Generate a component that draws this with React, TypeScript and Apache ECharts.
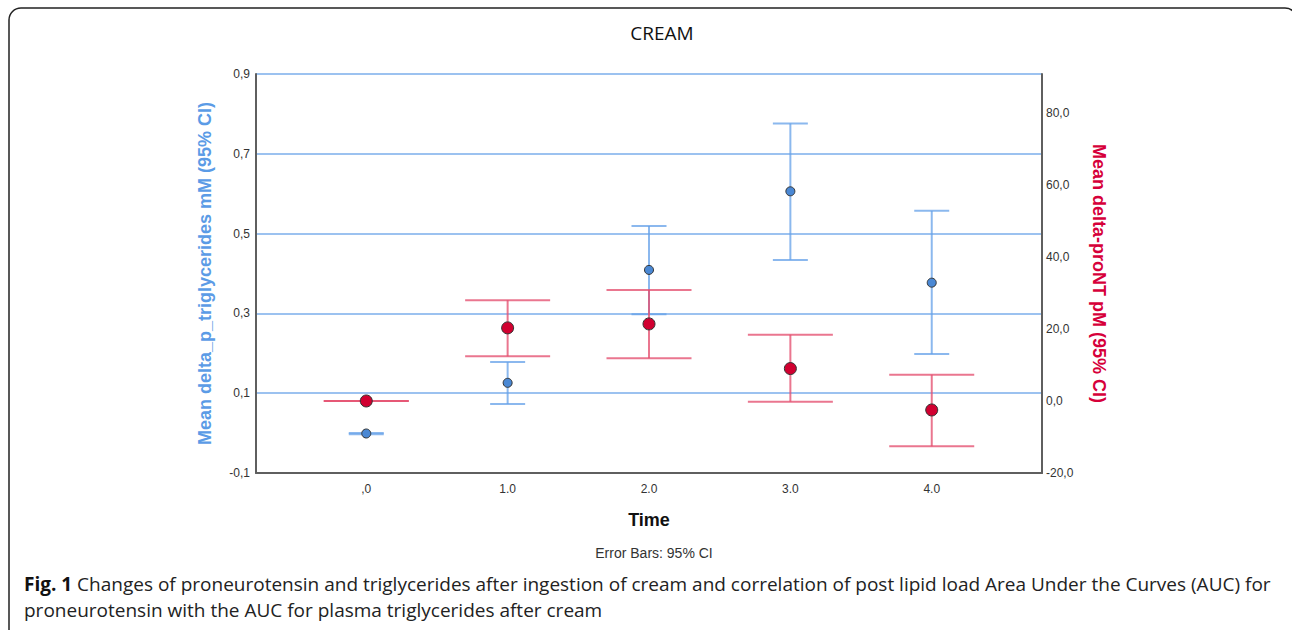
import React, { useEffect, useRef } from "react";
import * as echarts from "echarts";

const times = [0, 1, 2, 3, 4];
const xLabels = [",0", "1.0", "2.0", "3.0", "4.0"];
const trigMean = [-0.001, 0.126, 0.409, 0.606, 0.377];
const trigLow = [-0.003, 0.073, 0.298, 0.434, 0.198];
const trigHigh = [0.0, 0.178, 0.519, 0.776, 0.557];
const pntMean = [0.0, 20.3, 21.4, 9.0, -2.5];
const pntLow = [0.0, 12.4, 11.9, -0.2, -12.6];
const pntHigh = [0.0, 28.0, 30.8, 18.4, 7.3];
const leftTicks = { min: -0.1, max: 0.9, interval: 0.2 };
const rightTicks = { min: -20, max: 90.8, interval: 20 };

const fmtComma = (v: number) => v.toFixed(1).replace(".", ",");

function makeErrorRender(color: string, capW: number) {
  return (params: any, api: any) => {
    const x = api.value(0);
    const lo = api.value(1);
    const hi = api.value(2);
    const pLo = api.coord([x, lo]);
    const pHi = api.coord([x, hi]);
    const h = capW / 2;
    const style = { stroke: color, lineWidth: 2 };
    return {
      type: "group",
      children: [
        { type: "line", shape: { x1: pLo[0], y1: pLo[1], x2: pHi[0], y2: pHi[1] }, style },
        { type: "line", shape: { x1: pLo[0] - h, y1: pLo[1], x2: pLo[0] + h, y2: pLo[1] }, style },
        { type: "line", shape: { x1: pHi[0] - h, y1: pHi[1], x2: pHi[0] + h, y2: pHi[1] }, style },
      ],
    };
  };
}

export default function App() {
  const ref = useRef<HTMLDivElement>(null);
  useEffect(() => {
    document.body.style.margin = "0";
    const chart = echarts.init(ref.current!, undefined, { renderer: "svg" });
    const axisGray = "#5f5f5f";
    const option: any = {
      animation: false,
      backgroundColor: "#ffffff",
      title: {
        text: "CREAM",
        left: 657,
        top: 18,
        textAlign: "center",
        textStyle: { fontFamily: "Open Sans", fontSize: 19, fontWeight: "normal", color: "#111" },
      },
      grid: { left: 256, right: 250, top: 74, bottom: 157 },
      xAxis: {
        type: "value",
        min: -0.78,
        max: 4.78,
        name: "Time",
        nameLocation: "middle",
        nameGap: 38,
        nameTextStyle: { fontFamily: "Liberation Sans", fontSize: 18, fontWeight: "bold", color: "#111" },
        axisLine: { onZero: false, lineStyle: { color: axisGray, width: 2 } },
        axisTick: { show: false },
        splitLine: { show: false },
        axisLabel: {
          showMinLabel: false,
          showMaxLabel: false,
          margin: 10,
          fontFamily: "Liberation Sans",
          fontSize: 12,
          color: "#333",
          formatter: (v: number) => {
            const i = Math.round(v);
            return Math.abs(v - i) < 1e-6 && i >= 0 && i < xLabels.length ? xLabels[i] : "";
          },
        },
      },
      yAxis: [
        {
          type: "value",
          min: leftTicks.min,
          max: leftTicks.max,
          interval: leftTicks.interval,
          position: "left",
          name: "Mean delta_p_triglycerides mM (95% CI)",
          nameLocation: "middle",
          nameRotate: 90,
          nameGap: 42,
          nameTextStyle: { fontFamily: "Liberation Sans", fontSize: 18, fontWeight: "bold", color: "#5b9be6" },
          axisLine: { show: true, onZero: false, lineStyle: { color: axisGray, width: 2 } },
          axisTick: { show: false },
          axisLabel: { margin: 6, fontFamily: "Liberation Sans", fontSize: 12, color: "#333", formatter: fmtComma },
          splitLine: { show: true, lineStyle: { color: "#9cc2f0", width: 2 } },
        },
        {
          type: "value",
          min: rightTicks.min,
          max: rightTicks.max,
          interval: rightTicks.interval,
          position: "right",
          name: "Mean delta-proNT pM (95% CI)",
          nameLocation: "middle",
          nameRotate: -90,
          nameGap: 48,
          nameTextStyle: { fontFamily: "Liberation Sans", fontSize: 18, fontWeight: "bold", color: "#d6003a" },
          axisLine: { show: true, onZero: false, lineStyle: { color: axisGray, width: 2 } },
          axisTick: { show: false },
          axisLabel: {
            margin: 4,
            showMaxLabel: false,
            fontFamily: "Liberation Sans",
            fontSize: 12,
            color: "#333",
            formatter: fmtComma,
          },
          splitLine: { show: false },
        },
      ],
      series: [
        {
          type: "custom",
          yAxisIndex: 0,
          renderItem: makeErrorRender("rgba(100,160,232,0.75)", 35),
          encode: { x: 0, y: [1, 2] },
          data: times.map((t, i) => [t, trigLow[i], trigHigh[i]]),
          z: 3,
        },
        {
          type: "custom",
          yAxisIndex: 1,
          renderItem: makeErrorRender("rgba(228,80,112,0.78)", 85),
          encode: { x: 0, y: [1, 2] },
          data: times.map((t, i) => [t, pntLow[i], pntHigh[i]]),
          z: 4,
        },
        {
          type: "scatter",
          yAxisIndex: 0,
          symbolSize: 9,
          itemStyle: { color: "#4a88d4", borderColor: "#333", borderWidth: 1, opacity: 1 },
          data: times.map((t, i) => [t, trigMean[i]]),
          z: 5,
        },
        {
          type: "scatter",
          yAxisIndex: 1,
          symbolSize: 12,
          itemStyle: { color: "#d10030", borderColor: "#333", borderWidth: 1, opacity: 1 },
          data: times.map((t, i) => [t, pntMean[i]]),
          z: 6,
        },
      ],
      graphic: [
        {
          type: "rect",
          shape: { x: 9, y: 8, width: 1288, height: 660, r: 12 },
          style: { fill: "none", stroke: "#222", lineWidth: 1.5 },
          silent: true,
          z: 0,
        },
        {
          type: "text",
          x: 654,
          y: 553,
          style: {
            text: "Error Bars: 95% CI",
            x: 0,
            y: 0,
            align: "center",
            verticalAlign: "middle",
            fontFamily: "Liberation Sans",
            fontSize: 14,
            fill: "#333",
          },
        },
        {
          type: "text",
          x: 24,
          y: 584,
          style: {
            text: "{b|Fig. 1} Changes of proneurotensin and triglycerides after ingestion of cream and correlation of post lipid load Area Under the Curves (AUC) for",
            verticalAlign: "middle",
            fontFamily: "Open Sans",
            fontSize: 19,
            fill: "#222",
            rich: { b: { fontFamily: "Open Sans", fontWeight: "bold", fontSize: 19, fill: "#111" } },
          },
        },
        {
          type: "text",
          x: 24,
          y: 610,
          style: {
            text: "proneurotensin with the AUC for plasma triglycerides after cream",
            verticalAlign: "middle",
            fontFamily: "Open Sans",
            fontSize: 19,
            fill: "#222",
          },
        },
      ],
    };
    chart.setOption(option);
    return () => chart.dispose();
  }, []);
  return <div ref={ref} style={{ position: "absolute", left: 0, top: 0, width: 1292, height: 630 }} />;
}
